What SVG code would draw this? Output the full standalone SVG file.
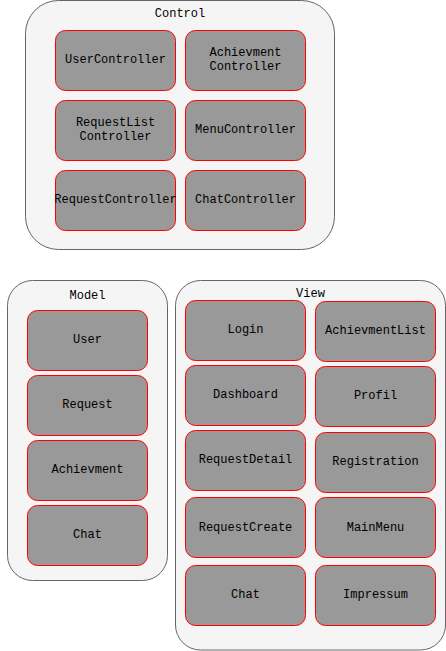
<svg xmlns="http://www.w3.org/2000/svg" width="446" height="651" viewBox="0 0 446 651">
<style>
.grp{fill:#f5f5f5;stroke:#666666;stroke-width:1}
.node{fill:#999999;stroke:#ff0000;stroke-width:1}
text{font-family:"Liberation Mono","DejaVu Sans Mono",monospace;font-size:12px;fill:#000000;text-anchor:middle;dominant-baseline:central}
</style>
<rect width="446" height="651" fill="#ffffff"/>
<g id="Control">
<rect class="grp" x="25.5" y="0.5" width="309" height="249" rx="33" ry="33"/>
<text x="180" y="14">Control</text>
</g>
<g id="Model">
<rect class="grp" x="7.5" y="280.5" width="160" height="300" rx="25" ry="25"/>
<text x="87.5" y="296">Model</text>
</g>
<g id="View">
<rect class="grp" x="175.5" y="280.5" width="270" height="369.5" rx="25" ry="25"/>
<text x="310.5" y="294">View</text>
</g>
<g id="UserController"><rect class="node" x="55.5" y="30.5" width="120" height="60" rx="10"/><text x="115.5" y="60">UserController</text></g>
<g id="AchievmentController"><rect class="node" x="185.5" y="30.5" width="120" height="60" rx="10"/><text x="245.5" y="53">Achievment</text><text x="245.5" y="66.5">Controller</text></g>
<g id="RequestListController"><rect class="node" x="55.5" y="100.5" width="120" height="60" rx="10"/><text x="115.5" y="123">RequestList</text><text x="115.5" y="136.5">Controller</text></g>
<g id="MenuController"><rect class="node" x="185.5" y="100.5" width="120" height="60" rx="10"/><text x="245.5" y="130">MenuController</text></g>
<g id="RequestController"><rect class="node" x="55.5" y="170.5" width="120" height="60" rx="10"/><text x="115.5" y="200">RequestController</text></g>
<g id="ChatController"><rect class="node" x="185.5" y="170.5" width="120" height="60" rx="10"/><text x="245.5" y="200">ChatController</text></g>
<g id="User"><rect class="node" x="27.5" y="310.5" width="120" height="60" rx="10"/><text x="87.5" y="340">User</text></g>
<g id="Request"><rect class="node" x="27.5" y="375.5" width="120" height="60" rx="10"/><text x="87.5" y="405">Request</text></g>
<g id="Achievment"><rect class="node" x="27.5" y="440.5" width="120" height="60" rx="10"/><text x="87.5" y="470">Achievment</text></g>
<g id="ModelChat"><rect class="node" x="27.5" y="505.5" width="120" height="60" rx="10"/><text x="87.5" y="535">Chat</text></g>
<g id="Login"><rect class="node" x="185.5" y="300.5" width="120" height="60" rx="10"/><text x="245.5" y="330">Login</text></g>
<g id="AchievmentList"><rect class="node" x="315.5" y="301.5" width="120" height="60" rx="10"/><text x="375.5" y="331">AchievmentList</text></g>
<g id="Dashboard"><rect class="node" x="185.5" y="365.5" width="120" height="60" rx="10"/><text x="245.5" y="395">Dashboard</text></g>
<g id="Profil"><rect class="node" x="315.5" y="366.5" width="120" height="60" rx="10"/><text x="375.5" y="396">Profil</text></g>
<g id="RequestDetail"><rect class="node" x="185.5" y="430.5" width="120" height="60" rx="10"/><text x="245.5" y="460">RequestDetail</text></g>
<g id="Registration"><rect class="node" x="315.5" y="432.5" width="120" height="60" rx="10"/><text x="375.5" y="462">Registration</text></g>
<g id="RequestCreate"><rect class="node" x="185.5" y="497.5" width="120" height="60" rx="10"/><text x="245.5" y="528">RequestCreate</text></g>
<g id="MainMenu"><rect class="node" x="315.5" y="497.5" width="120" height="60" rx="10"/><text x="375.5" y="528">MainMenu</text></g>
<g id="ViewChat"><rect class="node" x="185.5" y="565.5" width="120" height="60" rx="10"/><text x="245.5" y="595">Chat</text></g>
<g id="Impressum"><rect class="node" x="315.5" y="565.5" width="120" height="60" rx="10"/><text x="375.5" y="595">Impressum</text></g>
<g id="connectors"></g>
</svg>
